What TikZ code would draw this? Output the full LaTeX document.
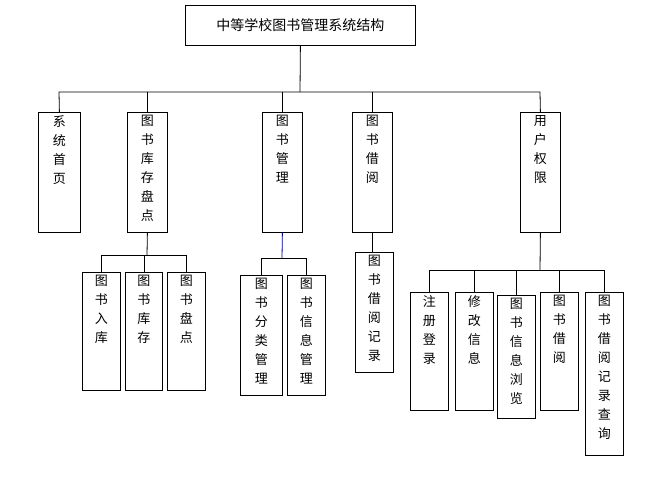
\documentclass[tikz,border=0pt]{standalone}
\usepackage{fontspec}
\setmainfont{Noto Sans CJK SC}
\begin{document}
\begin{tikzpicture}[x=1pt,y=-1pt,
  bx/.style={draw,thick,inner sep=0pt,anchor=north west},
  ln/.style={draw,line width=0.8pt}]
\useasboundingbox (0,0) rectangle (656,482);
\newcommand\vb[6]{%
  \node[bx,minimum width=#4-#2,minimum height=#5-#3,
    label={[anchor=north,yshift=-3pt,align=center,inner sep=0pt,font=\fontsize{13}{19}\selectfont]north:#6}] (#1) at (#2,#3) {};}
\node[bx,minimum width=230,minimum height=40,font=\fontsize{14}{16}\selectfont] (top) at (185,5) {中等学校图书管理系统结构};
\vb{a}{38}{112}{80}{232}{系\\统\\首\\页}
\vb{b}{127}{112}{167}{232}{图\\书\\库\\存\\盘\\点}
\vb{c}{262}{112}{302}{232}{图\\书\\管\\理}
\vb{d}{352}{112}{392}{232}{图\\书\\借\\阅}
\vb{e}{520}{112}{560}{232}{用\\户\\权\\限}
\vb{b1}{82}{272}{120}{390}{图\\书\\入\\库}
\vb{b2}{125}{272}{162}{390}{图\\书\\库\\存}
\vb{b3}{167}{272}{205}{390}{图\\书\\盘\\点}
\vb{c1}{240}{275}{282}{395}{图\\书\\分\\类\\管\\理}
\vb{c2}{287}{275}{325}{395}{图\\书\\信\\息\\管\\理}
\vb{d1}{355}{252}{393}{372}{图\\书\\借\\阅\\记\\录}
\vb{e1}{410}{292}{448}{410}{注\\册\\登\\录}
\vb{e2}{455}{292}{493}{410}{修\\改\\信\\息}
\vb{e3}{497}{295}{535}{418}{图\\书\\信\\息\\浏\\览}
\vb{e4}{540}{292}{578}{410}{图\\书\\借\\阅}
\vb{e5}{585}{292}{623}{455}{图\\书\\借\\阅\\记\\录\\查\\询}
\coordinate (h1) at (300,92);
\draw[ln] (top.south) -- (h1);
\draw[ln] (a.north) -- (59,92) -- (540,92) -- (e.north);
\foreach \n in {b,c,d} \draw[ln] (\n.north) -- (\n.north|-h1);
\coordinate (h2) at (147,255);
\draw[ln] (b.south) -- (h2);
\draw[ln] (b1.north) -- (b1.north|-h2) -- (b3.north|-h2) -- (b3.north);
\draw[ln] (b2.north) -- (b2.north|-h2);
\coordinate (h3) at (282,258);
\draw[ln,blue!60!black] (c.south) -- (h3);
\draw[ln] (c1.north) -- (c1.north|-h3) -- (c2.north|-h3) -- (c2.north);
\draw[ln] (d.south) -- (d.south|-d1.north);
\coordinate (h4) at (540,270);
\draw[ln] (e.south) -- (h4);
\draw[ln] (e1.north) -- (e1.north|-h4) -- (e5.north|-h4) -- (e5.north);
\foreach \n in {e2,e3,e4} \draw[ln] (\n.north) -- (\n.north|-h4);
\end{tikzpicture}
\end{document}
